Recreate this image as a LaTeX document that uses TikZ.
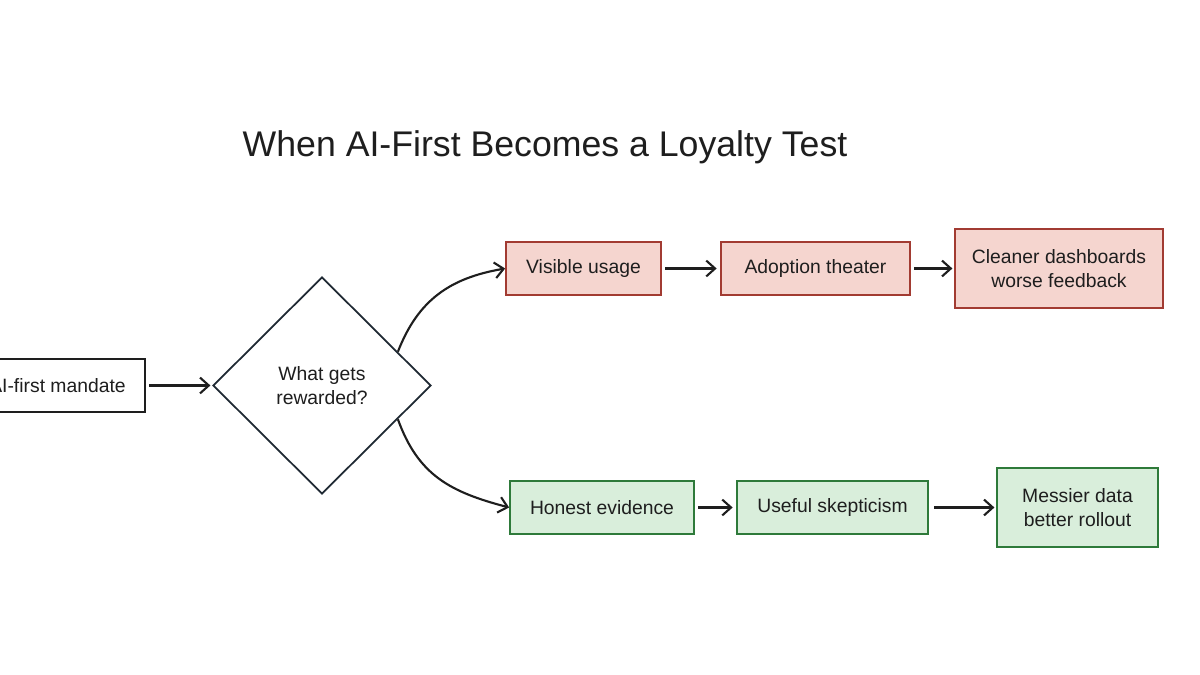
\documentclass[tikz,border=0pt]{standalone}
\usepackage{fontspec}
\setmainfont{Liberation Sans}
\usetikzlibrary{shapes.geometric,arrows.meta}
\definecolor{redfill}{HTML}{F5D5CF}
\definecolor{redline}{HTML}{A23B32}
\definecolor{greenfill}{HTML}{D9EEDB}
\definecolor{greenline}{HTML}{2E7A3A}
\definecolor{inkline}{HTML}{1E1E1E}
\definecolor{diaink}{HTML}{1F2933}
\tikzset{
  base/.style={draw=inkline, line width=1pt, rectangle, inner sep=0pt, align=center,
    font=\fontsize{11pt}{14pt}\selectfont, text=inkline},
  plainbox/.style={base, fill=white},
  redbox/.style={base, draw=redline, fill=redfill},
  greenbox/.style={base, draw=greenline, fill=greenfill},
  decision/.style={diamond, draw=diaink, line width=1pt, inner sep=0pt, align=center,
    font=\fontsize{11pt}{14pt}\selectfont, text=inkline},
  link/.style={draw=inkline, line width=1.2pt, -{Straight Barb[length=5pt,width=9pt]}},
}
\begin{document}
\begin{tikzpicture}[x=0.02cm,y=-0.02cm]
\useasboundingbox[fill=white] (0,0) rectangle (1200,675);

\node[font=\fontsize{20.3pt}{24pt}\selectfont, text=inkline] (title) at (545,147) {When AI-First Becomes a Loyalty Test};

\node[plainbox, minimum width=3.5cm, minimum height=1.06cm] (mandate) at (57.5,385.5) {AI-first mandate};

\node[decision, minimum width=4.36cm, minimum height=4.34cm] (reward) at (322,385.5) {What gets\\rewarded?};

\node[redbox, minimum width=3.1cm, minimum height=1.06cm] (visible) at (583.5,268.5) {Visible usage};
\node[redbox, minimum width=3.78cm, minimum height=1.06cm] (theater) at (815.5,268.5) {Adoption theater};
\node[redbox, minimum width=4.16cm, minimum height=1.58cm] (cleaner) at (1059,268.5) {Cleaner dashboards\\worse feedback};

\node[greenbox, minimum width=3.68cm, minimum height=1.06cm] (honest) at (602,507.5) {Honest evidence};
\node[greenbox, minimum width=3.82cm, minimum height=1.06cm] (skeptic) at (832.5,507.5) {Useful skepticism};
\node[greenbox, minimum width=3.22cm, minimum height=1.58cm] (messier) at (1077.5,507.5) {Messier data\\better rollout};

\draw[link, shorten <=2pt, shorten >=1pt] (mandate.east) -- (reward.west);

\draw[link] (reward.24) .. controls (418,300) and (450,278) .. (visible.west);
\draw[link] (reward.-24) .. controls (418,475) and (450,492) .. (honest.west);

\draw[link, shorten <=2pt, shorten >=2pt] (visible.east) -- (theater.west);
\draw[link, shorten <=2pt, shorten >=1pt] (theater.east) -- (cleaner.west);
\draw[link, shorten <=2pt, shorten >=2pt] (honest.east) -- (skeptic.west);
\draw[link, shorten <=3pt, shorten >=1pt] (skeptic.east) -- (messier.west);
\end{tikzpicture}
\end{document}
